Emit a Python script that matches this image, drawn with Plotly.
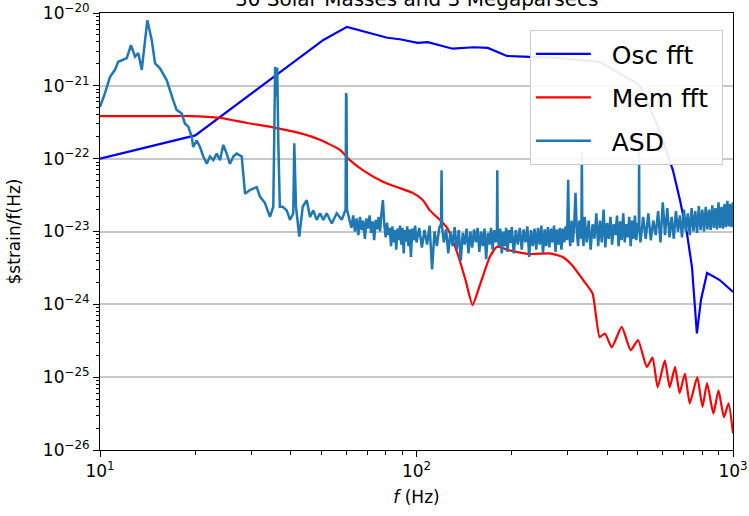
import numpy as np
import plotly.graph_objects as go

title_text = "30 Solar Masses and 3 Megaparsecs"
x_tick_vals = [10, 100, 1000]
x_tick_labels = ["10<sup>1</sup>", "10<sup>2</sup>", "10<sup>3</sup>"]
y_tick_vals = [1e-26, 1e-25, 1e-24, 1e-23, 1e-22, 1e-21, 1e-20]
y_tick_labels = ["10<sup>\u221226</sup>", "10<sup>\u221225</sup>", "10<sup>\u221224</sup>",
                 "10<sup>\u221223</sup>", "10<sup>\u221222</sup>", "10<sup>\u221221</sup>",
                 "10<sup>\u221220</sup>"]
series_names = ["\u00a0\u00a0Osc fft\u00a0", "\u00a0\u00a0Mem fft\u00a0", "\u00a0\u00a0ASD\u00a0"]

# Osc fft: frequency (Hz) and log10 amplitude
osc_freq = [10, 20, 50.8, 60.3, 80.8, 88.6, 100.8, 108.6, 130.1, 151.5, 168, 193, 217, 283,
            379, 507, 586, 646, 680, 715, 742, 759, 769, 792, 828, 870, 910, 1000]
osc_log = [-22.0, -21.68, -20.37, -20.19, -20.34, -20.36, -20.41, -20.40, -20.49, -20.47,
           -20.48, -20.59, -20.60, -20.62, -20.67, -20.99, -21.61, -22.16, -22.57, -23.02,
           -23.49, -24.08, -24.40, -23.94, -23.57, -23.62, -23.67, -23.83]

# Mem fft
mem_freq = [10, 15.5, 19.3, 23.9, 29.1, 35.2, 42.8, 49.5, 57.3, 61.6, 67.8, 78.6, 86.7, 97.3,
            104.8, 110.2, 118.5, 125, 134.7, 142.9, 150.3, 158.5, 170.4, 179.6, 197, 228,
            263.6, 289.6, 309.7, 336.6, 359.9, 379, 394, 414, 445, 475, 501, 534, 557, 578,
            609, 631, 656, 678, 705, 730, 771, 801, 828, 867, 900, 936, 968, 1000]
mem_log = [-21.415, -21.415, -21.415, -21.44, -21.51, -21.57, -21.65, -21.74, -21.88, -22.02,
           -22.16, -22.32, -22.39, -22.47, -22.57, -22.71, -22.84, -22.95, -23.30, -23.67,
           -24.01, -23.74, -23.35, -23.21, -23.26, -23.31, -23.30, -23.35, -23.46, -23.67,
           -23.85, -24.45, -24.40, -24.59, -24.31, -24.63, -24.49, -24.86, -24.73, -25.14,
           -24.77, -25.14, -24.86, -25.22, -24.95, -25.36, -25.0, -25.41, -25.08, -25.50,
           -25.18, -25.55, -25.36, -25.77]

# ASD, 10-60 Hz
asd_f_low = [10.0, 10.37, 10.75, 11.15, 11.42, 11.71, 12.15, 12.53, 12.90, 13.21,
             13.55, 13.77, 14.11, 14.57, 14.92, 15.47, 16.24, 17.04, 17.46, 18.12,
             18.56, 19.01, 19.49, 19.70, 20.21, 20.70, 21.20, 21.74, 22.26, 22.80,
             23.37, 23.94, 24.52, 25.13, 25.74, 26.38, 27.03, 28.04, 28.72, 29.77,
             31.27, 32.02, 33.21, 34.44, 35.28, 35.55, 35.75, 36.0, 36.3, 36.6,
             37.0, 37.78, 38.90, 39.84, 40.80, 41.1, 41.4, 41.61, 42.62, 43.70,
             45.0, 46.08, 47.21, 48.39, 49.56, 50.76, 52.04, 53.97, 55.97, 58.04,
             59.7, 59.9, 60.1, 60.3]
asd_v_low = [-21.29, -21.10, -20.88, -20.78, -20.67, -20.65, -20.62, -20.44, -20.60, -20.55,
             -20.78, -20.51, -20.10, -20.37, -20.69, -20.76, -20.92, -21.20, -21.33, -21.38,
             -21.52, -21.56, -21.70, -21.84, -21.75, -21.84, -21.97, -22.07, -21.97, -22.02,
             -21.93, -22.02, -21.81, -21.93, -22.07, -21.97, -21.93, -21.97, -22.48, -22.43,
             -22.39, -22.52, -22.61, -22.80, -22.66, -21.6, -20.74, -21.15, -20.75, -21.8,
             -22.66, -22.66, -22.71, -22.84, -22.75, -21.79, -22.6, -22.66, -23.07, -22.66,
             -22.57, -22.80, -22.71, -22.84, -22.75, -22.84, -22.75, -22.89, -22.75, -22.84,
             -22.7, -21.10, -21.15, -22.7]

# ASD, 60-100 Hz
asd_f_mid = [61.5, 62.3, 63.1, 63.9, 64.7, 65.5, 66.3, 67.1, 67.9, 68.7,
             69.5, 70.3, 71.1, 71.9, 72.7, 73.5, 74.3, 75.1, 75.9, 76.7,
             77.5, 78.3, 79.1, 79.9, 80.7, 81.5, 82.3, 83.1, 83.9, 84.7,
             85.5, 86.3, 87.1, 87.9, 88.7, 89.5, 90.3, 91.1, 91.9, 92.7,
             93.5, 94.3, 95.1, 96.0, 97.0, 98.0, 99.0]
asd_v_mid = [-22.84, -22.95, -22.78, -23.0, -22.82, -23.05, -22.8, -22.98, -22.85, -23.1,
             -22.82, -22.96, -22.78, -23.02, -22.86, -23.12, -22.84, -22.97, -22.8, -23.0,
             -22.75, -22.57, -22.9, -23.08, -22.88, -23.05, -22.95, -23.2, -22.93, -23.15,
             -22.98, -23.25, -22.96, -23.12, -22.92, -23.18, -22.95, -23.3, -22.98, -23.14,
             -22.93, -23.2, -22.97, -23.35, -22.96, -23.12, -22.92]

# ASD, 100-300 Hz
asd_f_m2 = [100, 102, 104, 106, 108, 110, 112, 114, 116, 118,
            119.5, 120, 120.5, 122, 124, 126, 128, 130, 132, 134,
            136, 138, 140, 142, 144, 146, 148, 150, 152, 154,
            156, 158, 160, 162, 164, 166, 168, 170, 172, 174,
            176, 178, 179.5, 180, 180.5, 182, 184, 186, 188, 190,
            192, 194, 196, 198, 200, 203, 206, 209, 212, 215,
            218, 221, 224, 227, 230, 233, 236, 239, 242, 245,
            248, 251, 254, 257, 260, 263, 266, 269, 272, 275,
            278, 281, 284, 287, 290, 293, 296, 299]
asd_v_m2 = [-23.15, -22.95, -23.22, -22.98, -23.18, -22.92, -23.52, -23.0, -23.2, -22.95,
            -22.9, -22.16, -22.95, -23.15, -22.97, -23.3, -23.0, -23.2, -22.94, -23.25,
            -22.98, -23.4, -23.02, -23.18, -22.96, -23.3, -23.0, -23.22, -22.97, -23.15,
            -22.95, -23.28, -23.0, -23.2, -22.96, -23.38, -23.02, -23.18, -22.95, -23.25,
            -22.98, -23.15, -23.0, -22.16, -23.0, -23.2, -22.96, -23.3, -23.0, -23.2,
            -22.95, -23.28, -22.98, -23.16, -22.94, -23.3, -22.98, -23.18, -22.95, -23.25,
            -22.97, -23.15, -22.93, -23.35, -22.98, -23.2, -22.96, -23.25, -22.95, -23.18,
            -22.92, -23.3, -22.97, -23.2, -22.94, -23.22, -22.96, -23.15, -22.92, -23.28,
            -22.97, -23.18, -22.95, -23.25, -22.96, -23.15, -22.93, -23.12]

# ASD, 300-1000 Hz
asd_f_high = [300, 301.5, 303, 306, 309, 312, 315, 318, 321, 324,
              327, 330, 332, 333, 334, 337, 340, 345, 350, 355,
              360, 365, 370, 375, 380, 385, 390, 395, 400, 405,
              410, 415, 420, 425, 430, 435, 440, 445, 450, 455,
              460, 465, 470, 475, 480, 485, 490, 495, 500, 504,
              505, 506, 510, 520, 530, 540, 550, 560, 570, 580,
              590, 600, 610, 620, 630, 640, 650, 660, 670, 680,
              690, 700, 710, 720, 730, 740, 750, 760, 770, 780,
              790, 800, 810, 820, 830, 840, 850, 860, 870, 880,
              890, 900, 910, 920, 930, 940, 950, 960, 970, 980,
              990, 1000]
asd_v_high = [-22.9, -22.29, -22.95, -23.2, -22.85, -23.15, -22.9, -22.47, -23.0, -23.2,
              -22.85, -23.1, -22.9, -21.9, -22.95, -23.2, -22.8, -23.15, -22.85, -23.25,
              -22.9, -23.1, -22.75, -23.2, -22.85, -23.15, -22.7, -23.22, -22.88, -23.1,
              -22.8, -23.18, -22.9, -23.05, -22.78, -23.2, -22.86, -23.12, -22.75, -23.15,
              -22.9, -23.08, -22.8, -23.2, -22.85, -23.1, -22.78, -23.12, -22.88, -23.0,
              -21.9, -22.95, -23.15, -22.8, -23.1, -22.75, -23.12, -22.85, -23.05, -22.72,
              -23.15, -22.6, -23.05, -22.68, -23.08, -22.8, -23.1, -22.72, -23.0, -22.78,
              -23.08, -22.7, -23.0, -22.75, -23.05, -22.68, -23.0, -22.72, -23.02, -22.65,
              -22.98, -22.7, -23.0, -22.66, -22.97, -22.7, -22.98, -22.64, -22.95, -22.68,
              -22.97, -22.6, -22.95, -22.66, -22.96, -22.62, -22.94, -22.58, -22.93, -22.62,
              -22.94, -22.6]

asd_freq = asd_f_low + asd_f_mid + asd_f_m2 + asd_f_high
asd_log = asd_v_low + asd_v_mid + asd_v_m2 + asd_v_high

fig = go.Figure()
fig.add_trace(go.Scatter(x=osc_freq, y=10 ** np.array(osc_log), mode="lines",
                         name=series_names[0], legendgroup="a",
                         line=dict(color="#0000ff", width=2.2)))
fig.add_trace(go.Scatter(x=mem_freq, y=10 ** np.array(mem_log), mode="lines",
                         name=series_names[1], legendgroup="b",
                         line=dict(color="#ff0000", width=2.2, shape="spline", smoothing=0.5)))
fig.add_trace(go.Scatter(x=asd_freq, y=10 ** np.array(asd_log), mode="lines",
                         name=series_names[2], legendgroup="c",
                         line=dict(color="#1f77b4", width=2.5)))

fig.update_layout(
    width=749, height=516,
    margin=dict(l=100, r=16, t=13, b=66, autoexpand=False),
    paper_bgcolor="white", plot_bgcolor="white",
    font=dict(family="DejaVu Sans", color="black", size=17),
    showlegend=True,
    legend=dict(x=0.984, xanchor="right", y=0.961, yanchor="top",
                bgcolor="rgba(255,255,255,0.92)", bordercolor="#cccccc", borderwidth=1,
                font=dict(size=25, family="DejaVu Sans", color="black"),
                itemwidth=55, tracegroupgap=8),
    annotations=[dict(text=title_text, xref="paper", yref="paper", x=0.5, y=1.032,
                      xanchor="center", yanchor="middle", showarrow=False,
                      font=dict(size=20, family="DejaVu Sans", color="black"))],
)
fig.update_xaxes(type="log", range=[1, 3], tickmode="array", tickvals=x_tick_vals,
                 ticktext=x_tick_labels, ticks="outside", ticklen=6, tickwidth=1,
                 tickcolor="black", showline=True, mirror=True, linecolor="black",
                 linewidth=1, showgrid=False, zeroline=False, automargin=False,
                 ticklabeloverflow="allow", tickfont=dict(size=17),
                 minor=dict(ticks="outside", ticklen=3.5, tickcolor="black", dtick="D1",
                            showgrid=False),
                 title=dict(text="<i>f</i> (Hz)", font=dict(size=17), standoff=10))
fig.update_yaxes(type="log", range=[-26, -20], tickmode="array", tickvals=y_tick_vals,
                 ticktext=y_tick_labels, ticks="outside", ticklen=6, tickwidth=1,
                 tickcolor="black", showline=True, mirror=True, linecolor="black",
                 linewidth=1, showgrid=True, gridcolor="#c8c8c8", gridwidth=1.5,
                 zeroline=False, automargin=False, ticklabeloverflow="allow",
                 tickfont=dict(size=17),
                 minor=dict(ticks="outside", ticklen=3.5, tickcolor="black", dtick="D1",
                            showgrid=False),
                 title=dict(text="$strain/f(Hz)", font=dict(size=17), standoff=17))

fig.write_html("out.html",
               config={"displayModeBar": False},
               post_script="document.body.style.margin='0';document.body.style.overflow='hidden';")
